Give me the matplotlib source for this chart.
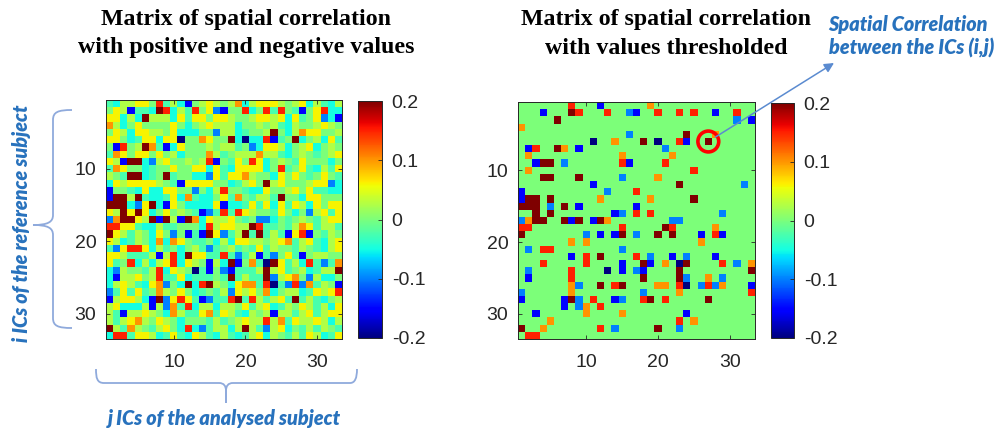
import numpy as np
import matplotlib
matplotlib.use("Agg")
import matplotlib.pyplot as plt
from matplotlib.patches import Circle, PathPatch
from matplotlib.path import Path

plt.rcParams['axes.unicode_minus'] = False

# ---- data -----------------------------------------------------------------
# colour level codes (jet scale, -0.2 .. 0.2)
level_codes = list("NBSCAGLYORD")
level_values = [-0.2, -0.15, -0.1, -0.05, -0.025, 0.0, 0.025, 0.06, 0.1, 0.15, 0.2]

# left matrix: one string per row i, one character per column j
left_rows = [
    "ACLLYYGRALCBGLYL" + "GLOCLYYYLGLYCLACL",
    "GYLBAACDRCLARGYS" + "BGGRCGRARGABGYRCC",
    "YYCLCDLLLCYAYYGY" + "YLGGLYYLYCYAGYSCB",
    "OLCGYGGGGYGCGLYL" + "LLCGGLGLACLGGLYLG",
    "GYLCYYLLGYCCCGGS" + "LLCAGGLDGCLOYYGGL",
    "YYGCAYYCYYNGGOYG" + "GDCNCCRBAGDCGLCYA",
    "GBRGLDOABCYGGGLG" + "LLAGSCYYLCGLYCGLG",
    "AOYGYYGYGLCGGGOL" + "AGLLLOLLACGLGAGLY",
    "YLBDDCSLYGGLGLRB" + "GAYGRYCGLGAYGGGCG",
    "AOYGGCAGGYGGYYCY" + "ACYYYYCGRAGYACLAY",
    "LGADDCAGDAGGCCSY" + "AYYOLGGCYGYGAGYGA",
    "CYLYYYYLGABYYYYG" + "GCALYGDLYGGGLYYSC",
    "BGGACYCCYYGGSGCL" + "RGGACCYGGLYGYAACC",
    "BDDLDACCAYCOACCG" + "YAOGALLADGGCYYGGG",
    "DDDCSYDCBYGCCCCY" + "BCCAYAYCYAYLCYGYY",
    "YLDYDYCGYGLGABSA" + "RARYLGGAYGCGSLYAY",
    "SODDYLDBDLBDOCYL" + "LYGAGSSCGAGLGALYY",
    "RRYYACCLAAGGGCRL" + "YYLLDRAAGALOYALLA",
    "DYLALGCYGSGBABDY" + "SALDADALABYRBGALG",
    "YLCALGCOCOYGAAGC" + "LCYYLLGLYOALYACLY",
    "ASYRRYCLAGCGLASA" + "GLAGAYALGGALGACLY",
    "YYLAAALBLRCDYYAA" + "RASALBASGYABGLLGG",
    "YAGRCLCLYRCYLGBL" + "CDBGOANDYALCRASAO",
    "CSLGGALRCYLGNABG" + "SBAAALDLYAGLCALLD",
    "CBLLYGLRAAYCAAAG" + "ADALAADSLYOGSLCCG",
    "CLYLACYOSGCDCRDL" + "GCYOOARNASRSOALGB",
    "SAYAYAGOLGYGCAGA" + "LSYLYGOCGLLCAYLYR",
    "BLYYLCBDSYRYABSA" + "ARDARLALYADALACGL",
    "LYCCCLBLSOARCLLC" + "LLGYALYCALGYLALCY",
    "LABLLYLGCOLAAYOA" + "YLACLGLBLLALYALYY",
    "LALYOLGYLGCGGGAL" + "AGLYLLRLOAYLLYLCL",
    "DLAOLGALYGCRCSAL" + "LCLDLASLYCGALALGA",
    "CRRAYYLCAYACYLAC" + "LACALYCLGALAYLCAY",
]

# right matrix (thresholded): non-zero cells per row, "column+level"
right_cells = [
    "8R 12B 19O",
    "4B 8D 9R 13R 16S 17B 20R 23R 25R 28B 31R",
    "6D 31S 33B",
    "1O",
    "16S 24D 28O",
    "11N 14O 18D 20N 23R 24B 27D",
    "2B 3R 6D 7O 9B 21S",
    "2O 15O 22O",
    "3B 4D 5D 7S 15R 16B 21R",
    "2O 25R",
    "4D 5D 9D 15S 20O",
    "11B 23D 32S",
    "1B 13S 17R",
    "1B 2D 3D 5D 12O 19O 25D",
    "1D 2D 3D 5S 7D 9B 17B",
    "3D 5D 14B 15S 17R 19R 29S",
    "1S 2O 3D 4D 7D 8B 9D 11B 12D 13O 22S 23S",
    "1R 2R 15R 21D 22R 28O",
    "1D 10S 12B 14B 15D 17S 20D 22D 26B 28R 29B",
    "8O 10O 26O",
    "2S 4R 5R 15S",
    "8B 10R 12D 17R 19S 22B 24S 28B",
    "4R 10R 15B 18D 19B 21O 23N 24D 29R 31S 33O",
    "2S 8R 13N 15B 17S 18B 23D 33D",
    "2B 8R 18D 23D 24S 27O 29S",
    "8O 9S 12D 14R 15D 20O 21O 23R 24N 26S 27R 28S 29O 33B",
    "1S 8O 18S 23O 33R",
    "1B 7B 8D 9S 11R 14B 15S 18R 19D 21R 27D",
    "7B 9S 10O 12R",
    "3B 10O 15O 24B",
    "5O 23R 25O",
    "1D 4O 12R 14S 20D 23S",
    "2R 3R",
]

highlight_cell = (6, 27)  # (i, j) circled in the thresholded matrix

axis_ticks = [10, 20, 30]
cbar_ticks = [-0.2, -0.1, 0.0, 0.1, 0.2]
cbar_ticklabels = ["-0.2", "-0.1", "0", "0.1", "0.2"]

title_left = ["Matrix of spatial correlation", "with positive and negative values"]
title_right = ["Matrix of spatial correlation", "with values thresholded"]
note_text = ["Spatial Correlation", "between the ICs (i,j)"]
ylabel_text = "i ICs of the reference subject"
xlabel_text = "j ICs of the analysed subject"

# ---- build matrices --------------------------------------------------------
lut = dict(zip(level_codes, level_values))
n = len(left_rows)
left = np.array([[lut[ch] for ch in row] for row in left_rows])
right = np.zeros((n, n))
for i, row in enumerate(right_cells):
    for tok in row.split():
        right[i, int(tok[:-1]) - 1] = lut[tok[-1]]

# ---- figure ----------------------------------------------------------------
W, H = 1002, 429
fig = plt.figure(figsize=(W / 100, H / 100), dpi=100)


def box(x0, y0, x1, y1):
    return [x0 / W, 1 - y1 / H, (x1 - x0) / W, (y1 - y0) / H]


dark = "#262626"
blue_txt = "#2872BD"
brace_col = "#8FAADC"


def style_matrix_axes(ax):
    ax.set_xticks(axis_ticks)
    ax.set_yticks(axis_ticks)
    ax.tick_params(direction="in", length=3, width=0.6, top=True, right=True,
                   colors=dark, labelsize=14)
    ax.tick_params(axis="x", pad=10.5)
    ax.tick_params(axis="y", pad=7)
    for lab in ax.get_xticklabels() + ax.get_yticklabels():
        lab.set_family("Liberation Sans")
    for sp in ax.spines.values():
        sp.set_color(dark)
        sp.set_linewidth(0.7)


def style_cbar(cb):
    cb.set_ticks(cbar_ticks)
    cb.set_ticklabels(cbar_ticklabels)
    cb.ax.tick_params(direction="in", length=3, width=0.6, colors=dark,
                      labelsize=14, pad=7, left=False, right=True)
    for lab in cb.ax.get_yticklabels():
        lab.set_family("Liberation Sans")
    cb.outline.set_edgecolor(dark)
    cb.outline.set_linewidth(0.7)


extent = (0.5, n + 0.5, n + 0.5, 0.5)

ax1 = fig.add_axes(box(106, 100, 342, 339))
im1 = ax1.imshow(left, cmap="jet", vmin=-0.2, vmax=0.2, extent=extent,
                 aspect="auto", interpolation="nearest")
style_matrix_axes(ax1)
cax1 = fig.add_axes(box(358, 101, 382, 338))
cb1 = fig.colorbar(im1, cax=cax1)
style_cbar(cb1)

ax2 = fig.add_axes(box(518, 102, 755, 339))
im2 = ax2.imshow(right, cmap="jet", vmin=-0.2, vmax=0.2, extent=extent,
                 aspect="auto", interpolation="nearest")
style_matrix_axes(ax2)
cax2 = fig.add_axes(box(771, 103, 794, 338))
cb2 = fig.colorbar(im2, cax=cax2)
style_cbar(cb2)

ax2.add_patch(Circle((highlight_cell[1], highlight_cell[0]), radius=1.45,
                     fill=False, ec="#FF0000", lw=2.6, clip_on=False, zorder=5))

# ---- titles ----------------------------------------------------------------
title_font = dict(family="Liberation Serif", weight="bold", size=17.2,
                  color="black", ha="center", va="center")
fig.text(246 / W, 1 - 20 / H, title_left[0], **title_font)
fig.text(246 / W, 1 - 48 / H, title_left[1], **title_font)
fig.text(666 / W, 1 - 20 / H, title_right[0], **title_font)
fig.text(666 / W, 1 - 48 / H, title_right[1], **title_font)

# ---- annotation overlay (pixel coordinates) --------------------------------
ov = fig.add_axes([0, 0, 1, 1], facecolor="none")
ov.set_xlim(0, W)
ov.set_ylim(H, 0)
ov.axis("off")

note_font = dict(family=["Lato", "DejaVu Sans"], style="italic", weight="heavy",
                 size=14.2, color=blue_txt)
ov.text(828, 24, note_text[0], ha="left", va="center", **note_font)
ov.text(829, 48, note_text[1], ha="left", va="center", **note_font)

ov.annotate("", xy=(834, 63), xycoords="data",
            xytext=(highlight_cell[1], highlight_cell[0]), textcoords=ax2.transData,
            arrowprops=dict(arrowstyle="-|>", color="#5B8BD0", lw=1.1,
                            mutation_scale=14, shrinkA=6, shrinkB=0))

# left brace
C4 = Path.CURVE4
verts = [(72, 110), (58, 110), (53, 112), (53, 120),
         (53, 215),
         (53, 222), (48, 225), (33, 225),
         (48, 225), (53, 228), (53, 235),
         (53, 318),
         (53, 326), (58, 328), (72, 328)]
codes = [Path.MOVETO, C4, C4, C4, Path.LINETO, C4, C4, C4, C4, C4, C4,
         Path.LINETO, C4, C4, C4]
ov.add_patch(PathPatch(Path(verts, codes), fill=False, ec=brace_col, lw=1.3))

# bottom brace
verts = [(96, 369), (96, 378), (97, 383), (104, 383),
         (219, 383),
         (224, 383), (226, 386), (226, 391),
         (226, 403),
         (226, 391),
         (226, 386), (228, 383), (233, 383),
         (350, 383),
         (355, 383), (357, 378), (357, 369)]
codes = [Path.MOVETO, C4, C4, C4, Path.LINETO, C4, C4, C4, Path.LINETO,
         Path.LINETO, C4, C4, C4, Path.LINETO, C4, C4, C4]
ov.add_patch(PathPatch(Path(verts, codes), fill=False, ec=brace_col, lw=1.3))

ov.text(22, 223, ylabel_text, rotation=90, ha="center", va="center", **note_font)
ov.text(224, 418, xlabel_text, ha="center", va="center", **note_font)

fig.savefig("out.png", dpi=100)
